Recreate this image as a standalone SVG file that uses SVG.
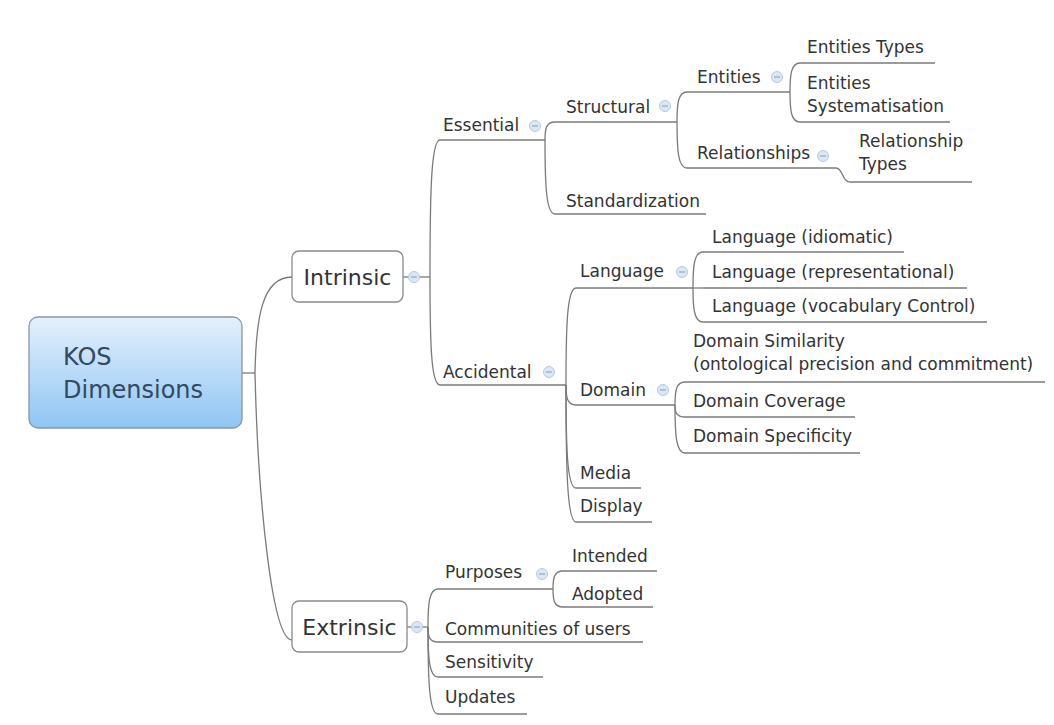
<svg xmlns="http://www.w3.org/2000/svg" width="1054" height="725" viewBox="0 0 1054 725">
<defs>
<linearGradient id="rootGrad" x1="0" y1="0" x2="0" y2="1">
<stop offset="0" stop-color="#e4f0fc"/>
<stop offset="1" stop-color="#8fc5f3"/>
</linearGradient>
<g id="col">
<circle cx="0" cy="0" r="5.5" fill="#dce7f6" stroke="#b4c8e3" stroke-width="1"/>
<line x1="-3" y1="0" x2="3" y2="0" stroke="#8ea7cb" stroke-width="1.2"/>
</g>
</defs>
<style>
text{font-family:"DejaVu Sans",Verdana,sans-serif;fill:#333}
.t{font-size:17px}
.big{font-size:22px}
.root{font-size:24px;fill:#34495e}
.ul{stroke:#7a7a7a;stroke-width:1.3;fill:none}
.cn{stroke:#7a7a7a;stroke-width:1.3;fill:none}
.box{fill:#fff;stroke:#8a8a8a;stroke-width:1.3}
</style>
<rect width="1054" height="725" fill="#fff"/>

<g id="connectors">
<path class="cn" d="M242,373 H255"/>
<path class="cn" d="M255,373 C256,318 262,277 292,277"/>
<path class="cn" d="M255,373 C258,500 272,640 292,640"/>
<path class="cn" d="M403,277 H430"/>
<path class="cn" d="M430,277 C430,195 431,140 440,140"/>
<path class="cn" d="M430,277 C430,342 431,385 440,385"/>
<path class="cn" d="M545,140 C545,129 546,122 555,122"/>
<path class="cn" d="M545,140 C545,184 546,214 555,214"/>
<path class="cn" d="M677,122 C677,104 678,92 687,92"/>
<path class="cn" d="M677,122 C677,150 678,168 687,168"/>
<path class="cn" d="M790,92 C790,75 791,63 800,63"/>
<path class="cn" d="M790,92 C790,110 791,122 800,122"/>
<path class="cn" d="M836,168 C843,168 842,182 850,182"/>
<path class="cn" d="M566,385 C566,327 567,288 576,288"/>
<path class="cn" d="M566,385 C566,397 567,405 576,405"/>
<path class="cn" d="M566,385 C566,447 567,488 576,488"/>
<path class="cn" d="M566,385 C566,467 567,522 576,522"/>
<path class="cn" d="M693,288 C693,266 694,252 703,252"/>
<path class="cn" d="M693,288 H703"/>
<path class="cn" d="M693,288 C693,308 694,322 703,322"/>
<path class="cn" d="M675,405 C675,391 676,382 685,382"/>
<path class="cn" d="M675,405 C675,412 676,417 685,417"/>
<path class="cn" d="M675,405 C675,434 676,453 685,453"/>
<path class="cn" d="M407,627 H428"/>
<path class="cn" d="M428,627 C428,604 429,589 438,589"/>
<path class="cn" d="M428,627 C428,636 429,642 438,642"/>
<path class="cn" d="M428,627 C428,657 429,677 438,677"/>
<path class="cn" d="M428,627 C428,679 429,714 438,714"/>
<path class="cn" d="M553,589 C553,578 554,571 563,571"/>
<path class="cn" d="M553,589 C553,600 554,607 563,607"/>
</g>

<g id="kos-dimensions">
<rect x="29" y="317" width="213" height="111" rx="9" fill="url(#rootGrad)" stroke="#8796a5" stroke-width="1.3"/>
<text class="root" x="63" y="365">KOS</text>
<text class="root" x="63" y="398">Dimensions</text>
</g>

<g id="intrinsic">
<rect class="box" x="292" y="251" width="111" height="51" rx="7"/>
<text class="big" x="347.5" y="285" text-anchor="middle">Intrinsic</text>
<use href="#col" x="414" y="277"/>
</g>

<g id="extrinsic">
<rect class="box" x="292" y="601" width="115" height="51" rx="7"/>
<text class="big" x="349.5" y="635" text-anchor="middle">Extrinsic</text>
<use href="#col" x="417" y="627"/>
</g>

<g id="essential">
<line class="ul" x1="440" y1="140" x2="545" y2="140"/>
<text class="t" x="443" y="131">Essential</text>
<use href="#col" x="535" y="126"/>
</g>

<g id="accidental">
<line class="ul" x1="440" y1="385" x2="566" y2="385"/>
<text class="t" x="443" y="378">Accidental</text>
<use href="#col" x="549" y="372"/>
</g>

<g id="structural">
<line class="ul" x1="555" y1="122" x2="677" y2="122"/>
<text class="t" x="566" y="113">Structural</text>
<use href="#col" x="665" y="106"/>
</g>

<g id="standardization">
<line class="ul" x1="555" y1="214" x2="706" y2="214"/>
<text class="t" x="566" y="207">Standardization</text>
</g>

<g id="entities">
<line class="ul" x1="687" y1="92" x2="790" y2="92"/>
<text class="t" x="697" y="83">Entities</text>
<use href="#col" x="777" y="77"/>
</g>

<g id="relationships">
<line class="ul" x1="687" y1="168" x2="836" y2="168"/>
<text class="t" x="697" y="159">Relationships</text>
<use href="#col" x="823" y="156"/>
</g>

<g id="entities-types">
<line class="ul" x1="800" y1="63" x2="935" y2="63"/>
<text class="t" x="807" y="53">Entities Types</text>
</g>

<g id="entities-systematisation">
<line class="ul" x1="800" y1="122" x2="950" y2="122"/>
<text class="t" x="807" y="89">Entities</text>
<text class="t" x="807" y="112">Systematisation</text>
</g>

<g id="relationship-types">
<line class="ul" x1="850" y1="182" x2="972" y2="182"/>
<text class="t" x="859" y="147">Relationship</text>
<text class="t" x="859" y="170">Types</text>
</g>

<g id="language">
<line class="ul" x1="576" y1="288" x2="693" y2="288"/>
<text class="t" x="580" y="277">Language</text>
<use href="#col" x="682" y="272"/>
</g>

<g id="domain">
<line class="ul" x1="576" y1="405" x2="675" y2="405"/>
<text class="t" x="580" y="396">Domain</text>
<use href="#col" x="663" y="390"/>
</g>

<g id="media">
<line class="ul" x1="576" y1="488" x2="641" y2="488"/>
<text class="t" x="580" y="479">Media</text>
</g>

<g id="display">
<line class="ul" x1="576" y1="522" x2="652" y2="522"/>
<text class="t" x="580" y="512">Display</text>
</g>

<g id="language-idiomatic">
<line class="ul" x1="703" y1="252" x2="904" y2="252"/>
<text class="t" x="712" y="243">Language (idiomatic)</text>
</g>

<g id="language-representational">
<line class="ul" x1="703" y1="288" x2="967" y2="288"/>
<text class="t" x="712" y="278">Language (representational)</text>
</g>

<g id="language-vocabulary-control">
<line class="ul" x1="703" y1="322" x2="987" y2="322"/>
<text class="t" x="712" y="312">Language (vocabulary Control)</text>
</g>

<g id="domain-similarity">
<line class="ul" x1="685" y1="382" x2="1045" y2="382"/>
<text class="t" x="693" y="347">Domain Similarity</text>
<text class="t" x="693" y="370">(ontological precision and commitment)</text>
</g>

<g id="domain-coverage">
<line class="ul" x1="685" y1="417" x2="855" y2="417"/>
<text class="t" x="693" y="407">Domain Coverage</text>
</g>

<g id="domain-specificity">
<line class="ul" x1="685" y1="453" x2="860" y2="453"/>
<text class="t" x="693" y="442">Domain Specificity</text>
</g>

<g id="purposes">
<line class="ul" x1="438" y1="589" x2="553" y2="589"/>
<text class="t" x="445" y="578">Purposes</text>
<use href="#col" x="542" y="574"/>
</g>

<g id="communities-of-users">
<line class="ul" x1="438" y1="642" x2="643" y2="642"/>
<text class="t" x="445" y="635">Communities of users</text>
</g>

<g id="sensitivity">
<line class="ul" x1="438" y1="677" x2="543" y2="677"/>
<text class="t" x="445" y="668">Sensitivity</text>
</g>

<g id="updates">
<line class="ul" x1="438" y1="714" x2="527" y2="714"/>
<text class="t" x="445" y="703">Updates</text>
</g>

<g id="intended">
<line class="ul" x1="563" y1="571" x2="657" y2="571"/>
<text class="t" x="572" y="562">Intended</text>
</g>

<g id="adopted">
<line class="ul" x1="563" y1="607" x2="653" y2="607"/>
<text class="t" x="572" y="600">Adopted</text>
</g>
</svg>
